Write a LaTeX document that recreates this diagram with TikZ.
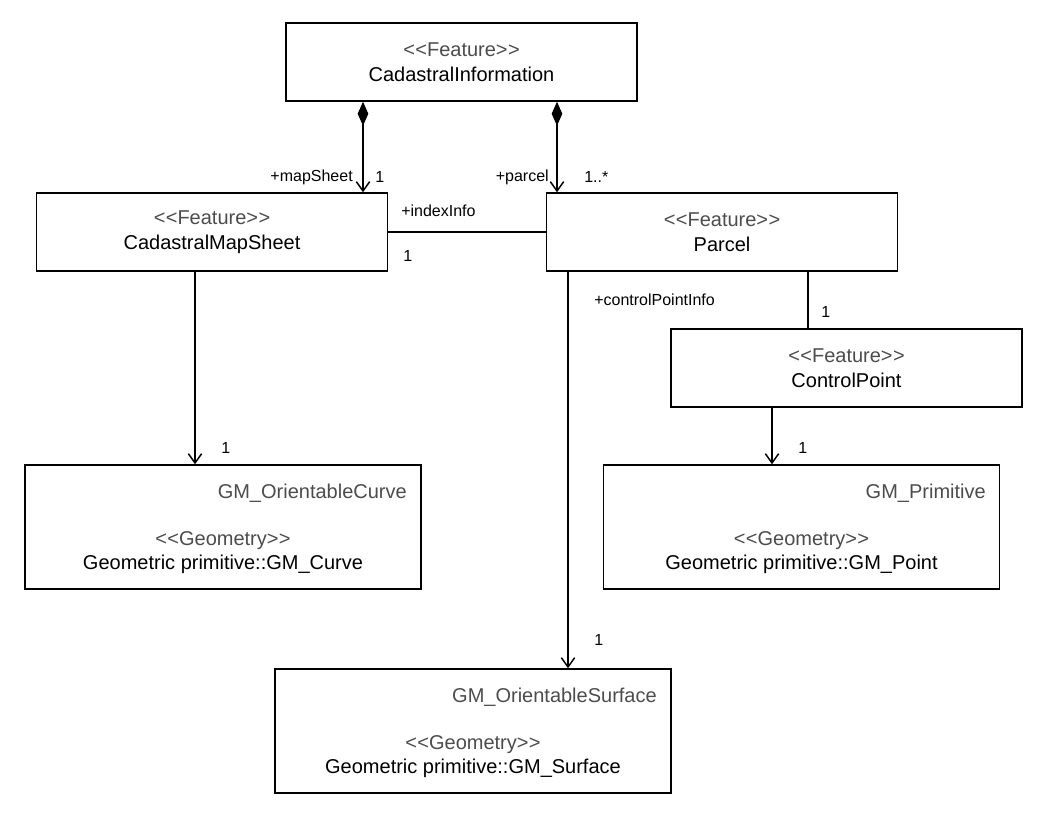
\documentclass[tikz,border=0pt]{standalone}
\usepackage{fontspec}
\setmainfont{Liberation Sans}
\usetikzlibrary{arrows.meta}
\newcommand{\stereo}[1]{{\color{black!70}<\kern0.3pt<#1>\kern0.3pt>}}
\tikzset{
  featurebox/.style={draw, line width=1.1pt, line join=miter, minimum width=263pt, minimum height=58.5pt,
    align=center, font=\fontsize{15}{18.5}\selectfont},
  geombox/.style={draw, line width=1.1pt, minimum width=297pt, minimum height=93pt},
  geomname/.style={inner sep=0pt, anchor=east, text=black!70, font=\fontsize{15}{18}\selectfont},
  geomtext/.style={inner sep=0pt, align=center, font=\fontsize{15}{18}\selectfont},
  role/.style={inner sep=0pt, font=\fontsize{12}{13}\selectfont},
  comp/.style={line width=1.1pt, {Diamond[length=18pt,width=8pt]}-{Straight Barb[length=7pt,width=10pt]}},
  nav/.style={line width=1.1pt, -{Straight Barb[length=7pt,width=10pt]}},
  assoc/.style={line width=1.1pt}
}
\begin{document}
\begin{tikzpicture}[x=0.75pt,y=-0.75pt]
    \useasboundingbox (0,0) rectangle (1044,817);
    % feature classes
    \node[featurebox] (ci) at (461.5,62) {\stereo{Feature}\\CadastralInformation};
    \node[featurebox] (cms) at (212,232) {\stereo{Feature}\\CadastralMapSheet};
    \node[featurebox] (parcel) at (722,232) {\stereo{Feature}\\Parcel};
    \node[featurebox] (cp) at (846.5,368) {\stereo{Feature}\\ControlPoint};
    % geometry classes
    \node[geombox] (curve) at (223,527) {};
    \node[geomname] (curvename) at (407,493) {GM\_OrientableCurve};
    \node[geomtext] (curvetext) at (223,553) {\stereo{Geometry}\\Geometric primitive::GM\_Curve};
    \node[geombox] (prim) at (801.5,527) {};
    \node[geomname] (primname) at (986,493) {GM\_Primitive};
    \node[geomtext] (primtext) at (801.5,553) {\stereo{Geometry}\\Geometric primitive::GM\_Point};
    \node[geombox] (surf) at (473,731) {};
    \node[geomname] (surfname) at (657,697) {GM\_OrientableSurface};
    \node[geomtext] (surftext) at (473,757) {\stereo{Geometry}\\Geometric primitive::GM\_Surface};
    % line positions
    \coordinate (msx) at (363,0);
    \coordinate (pax) at (557,0);
    \coordinate (cmx) at (195,0);
    \coordinate (psx) at (568,0);
    \coordinate (pcx) at (808,0);
    \coordinate (cpx) at (772,0);
    % connectors
    \draw[comp] (ci.south -| msx) -- (cms.north -| msx);
    \draw[comp] (ci.south -| pax) -- (parcel.north -| pax);
    \draw[assoc] (cms.east) -- (parcel.west);
    \draw[nav] (cms.south -| cmx) -- (curve.north -| cmx);
    \draw[nav] (parcel.south -| psx) -- (surf.north -| psx);
    \draw[assoc] (parcel.south -| pcx) -- (cp.north -| pcx);
    \draw[nav] (cp.south -| cpx) -- (prim.north -| cpx);
    % roles and multiplicities
    \node[role, anchor=east] (mapsheet) at (353,177) {+mapSheet};
    \node[role, anchor=west] (mapsheetm) at (375,177) {1};
    \node[role, anchor=east] (parcelr) at (549,177) {+parcel};
    \node[role, anchor=west] (parcelm) at (584,177) {1..*};
    \node[role, anchor=west] (index) at (401,211) {+indexInfo};
    \node[role, anchor=west] (indexm) at (403,256) {1};
    \node[role, anchor=west] (curvem) at (221,448) {1};
    \node[role, anchor=west] (cpinfo) at (594,300) {+controlPointInfo};
    \node[role, anchor=west] (surfm) at (594,640) {1};
    \node[role, anchor=west] (cpm) at (821,312) {1};
    \node[role, anchor=west] (primm) at (798,448) {1};
\end{tikzpicture}
\end{document}
